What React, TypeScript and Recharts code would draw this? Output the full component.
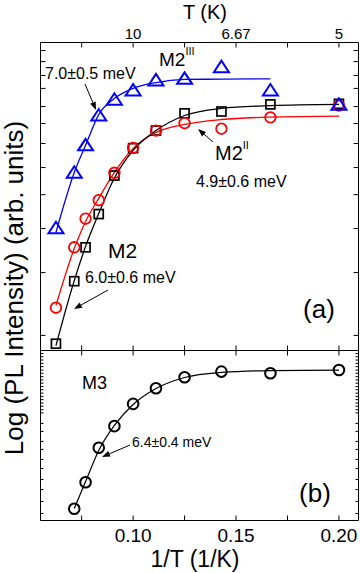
import { ComposedChart, Scatter, Line, XAxis, YAxis } from "recharts";

// 1/T (1/K) of the measured temperatures
const invTa = [0.0625, 0.0714, 0.0769, 0.0833, 0.0909, 0.1, 0.1111, 0.125, 0.1429, 0.1667, 0.2];
const invTb = [0.0714, 0.0769, 0.0833, 0.0909, 0.1, 0.1111, 0.125, 0.1429, 0.1667, 0.2];

// log PL intensity, arbitrary units (panel a)
const m2III = [3.97, 5.77, 6.66, 7.63, 8.14, 8.44, 8.77, 8.82, 9.2, 8.44, 7.98];
const m2II = [1.39, 3.35, 4.28, 4.88, 5.77, 6.58, 7.14, 7.38, 7.2, 7.57, 7.95];
const m2 = [0.22, 2.25, 3.35, 4.43, 5.68, 6.57, 7.14, 7.7, 7.76, 7.99, 8.01];

// fitted curves (panel a)
const fitXIII = [0.0625, 0.0714, 0.0769, 0.0833, 0.0909, 0.1, 0.1111, 0.125, 0.1429, 0.1667];
const fitIII = [3.83, 5.78, 6.66, 7.66, 8.18, 8.51, 8.7, 8.8, 8.81, 8.82];
const fitII = [1.46, 3.31, 4.19, 4.94, 5.78, 6.56, 7.08, 7.34, 7.5, 7.58, 7.61];
const fit2 = [0.16, 2.27, 3.38, 4.45, 5.6, 6.5, 7.14, 7.63, 7.86, 7.95, 7.99];

// panel b
const m3 = [0.69, 2.25, 4.28, 5.55, 6.86, 7.78, 8.43, 8.76, 8.66, 8.85];
const fitM3 = [0.71, 2.29, 4.12, 5.59, 6.82, 7.76, 8.41, 8.71, 8.82, 8.85];

// axes
const xTicks = [0.075, 0.1, 0.125, 0.15, 0.175, 0.2];
const xLabelTicks = [0.1, 0.15, 0.2];
const topLabels = ["10", "6.67", "5"];
const yTicksA = [0.49, 2.53, 3.96, 5.06, 5.94, 6.72, 7.37, 7.92, 8.51, 8.93, 9.38, 9.74];
const yTicksB = [
  0.41, 1.12, 1.82, 2.41, 3.06, 3.59, 4.18, 4.65, 5.24, 5.71, 6.33, 6.52, 6.72, 6.91, 7.11, 7.3,
  7.49, 7.69, 7.88, 8.08, 8.27, 8.46, 8.66, 8.85, 9.05, 9.24, 9.44, 9.63, 9.82,
];

const X_DOMAIN: [number, number] = [0.055, 0.2095];
const FONT = "Arial, 'Liberation Sans', sans-serif";

const pts = (xs: number[], ys: number[]) => xs.map((x, i) => ({ x, y: ys[i] }));

const NoLabel = () => <g />;

const Triangle = (p: any) => (
  <polygon
    points={`${p.cx},${p.cy - 6.5} ${p.cx - 7.5},${p.cy + 5} ${p.cx + 7.5},${p.cy + 5}`}
    fill="none"
    stroke="#0000ff"
    strokeWidth={2}
  />
);
const RedCircle = (p: any) => (
  <circle cx={p.cx} cy={p.cy} r={5.3} fill="none" stroke="#ff0000" strokeWidth={1.8} />
);
const Square = (p: any) => (
  <rect x={p.cx - 4.5} y={p.cy - 4.5} width={9} height={9} fill="none" stroke="#000" strokeWidth={1.7} />
);
const BlackCircle = (p: any) => (
  <circle cx={p.cx} cy={p.cy} r={5.3} fill="none" stroke="#000" strokeWidth={2} />
);

const Arrow = ({ x1, y1, x2, y2 }: { x1: number; y1: number; x2: number; y2: number }) => {
  const a = Math.atan2(y2 - y1, x2 - x1);
  const bx = x2 - 8 * Math.cos(a);
  const by = y2 - 8 * Math.sin(a);
  const s = Math.sin(a) * 3;
  const c = Math.cos(a) * 3;
  return (
    <g>
      <line x1={x1} y1={y1} x2={bx} y2={by} stroke="#000" strokeWidth={1} />
      <polygon points={`${x2},${y2} ${bx + s},${by - c} ${bx - s},${by + c}`} fill="#000" />
    </g>
  );
};

const frameAxes = (yTicks: number[], yLen: number) => [
  <XAxis key="xb" xAxisId={0} dataKey="x" type="number" domain={X_DOMAIN} allowDataOverflow
    ticks={xTicks} interval={0} mirror height={1} tick={NoLabel} tickSize={5} stroke="#000" />,
  <XAxis key="xt" xAxisId="t" dataKey="x" orientation="top" type="number" domain={X_DOMAIN} allowDataOverflow
    ticks={xTicks} interval={0} mirror height={1} tick={NoLabel} tickSize={5} stroke="#000" />,
  <YAxis key="yl" yAxisId={0} dataKey="y" type="number" domain={[0, 10]} allowDataOverflow
    ticks={yTicks} interval={0} mirror width={1} tick={NoLabel} tickSize={yLen} stroke="#000" />,
  <YAxis key="yr" yAxisId="r" dataKey="y" orientation="right" type="number" domain={[0, 10]} allowDataOverflow
    ticks={yTicks} interval={0} mirror width={1} tick={NoLabel} tickSize={yLen} stroke="#000" />,
];

export default function App() {
  return (
    <div style={{ position: "absolute", left: 0, top: 0, width: 360, height: 573, background: "#fff" }}>
      <div style={{ position: "absolute", left: 0, top: 0 }}>
        <ComposedChart width={360} height={352} data={pts(invTa, m2)}
          margin={{ top: 22.5, right: 1.5, bottom: 1.5, left: 40.5 }}>
          {frameAxes(yTicksA, 5)}
          <XAxis xAxisId="tl" dataKey="x" orientation="top" type="number" domain={X_DOMAIN} allowDataOverflow
            ticks={xLabelTicks} interval={0} height={20} tickLine={false} axisLine={false}
            tickSize={0} tickMargin={4}
            tickFormatter={(v: number) => topLabels[xLabelTicks.indexOf(v)] ?? ""}
            tick={{ fontSize: 15, fill: "#000", fontFamily: FONT }} />
          <Line data={pts(fitXIII, fitIII)} dataKey="y" type="monotone" stroke="#0000ff" strokeWidth={1.3}
            dot={false} activeDot={false} isAnimationActive={false} />
          <Line data={pts(invTa, fitII)} dataKey="y" type="monotone" stroke="#ff0000" strokeWidth={1.3}
            dot={false} activeDot={false} isAnimationActive={false} />
          <Line data={pts(invTa, fit2)} dataKey="y" type="monotone" stroke="#000" strokeWidth={1.3}
            dot={false} activeDot={false} isAnimationActive={false} />
          <Scatter data={pts(invTa, m2)} shape={Square} isAnimationActive={false} />
          <Scatter data={pts(invTa, m2II)} shape={RedCircle} isAnimationActive={false} />
          <Scatter data={pts(invTa, m2III)} shape={Triangle} isAnimationActive={false} />
        </ComposedChart>
      </div>
      <div style={{ position: "absolute", left: 0, top: 345 }}>
        <ComposedChart width={360} height={228} data={pts(invTb, m3)}
          margin={{ top: 5.5, right: 1.5, bottom: 0, left: 40.5 }}>
          {frameAxes(yTicksB, 3)}
          <XAxis xAxisId="bl" dataKey="x" type="number" domain={X_DOMAIN} allowDataOverflow
            ticks={xLabelTicks} interval={0} height={52.5} tickLine={false} axisLine={false}
            tickSize={0} tickMargin={8}
            tickFormatter={(v: number) => v.toFixed(2)}
            tick={{ fontSize: 19, fill: "#000", fontFamily: FONT }} />
          <Line data={pts(invTb, fitM3)} dataKey="y" type="monotone" stroke="#000" strokeWidth={1.2}
            dot={false} activeDot={false} isAnimationActive={false} />
          <Scatter data={pts(invTb, m3)} shape={BlackCircle} isAnimationActive={false} />
        </ComposedChart>
      </div>
      <svg width={360} height={573} style={{ position: "absolute", left: 0, top: 0, pointerEvents: "none" }}
        fontFamily={FONT} fill="#000">
        <text x={205} y={19} fontSize={20} textAnchor="middle">T (K)</text>
        <text transform="translate(23,288) rotate(-90)" fontSize={26} textAnchor="middle">
          Log (PL Intensity) (arb. units)
        </text>
        <text x={195} y={567} fontSize={23} textAnchor="middle">1/T (1/K)</text>

        <text x={159} y={66} fontSize={19}>M2<tspan fontSize={11} dy={-11}>III</tspan></text>
        <text x={45} y={79} fontSize={16}>7.0±0.5 meV</text>
        <Arrow x1={85} y1={84} x2={96} y2={110} />

        <text x={215} y={160} fontSize={20}>M2<tspan fontSize={11} dy={-11}>II</tspan></text>
        <Arrow x1={213} y1={142} x2={198} y2={129} />
        <text x={196} y={187} fontSize={16}>4.9±0.6 meV</text>

        <text x={108} y={258} fontSize={21}>M2</text>
        <text x={85} y={283} fontSize={16}>6.0±0.6 meV</text>
        <Arrow x1={108} y1={290} x2={74} y2={309} />
        <text x={319} y={318} fontSize={26} textAnchor="middle">(a)</text>

        <text x={82} y={389} fontSize={18}>M3</text>
        <text x={132} y={447} fontSize={14}>6.4±0.4 meV</text>
        <Arrow x1={130} y1={445} x2={102} y2={457} />
        <text x={315} y={502} fontSize={26} textAnchor="middle">(b)</text>
      </svg>
    </div>
  );
}
